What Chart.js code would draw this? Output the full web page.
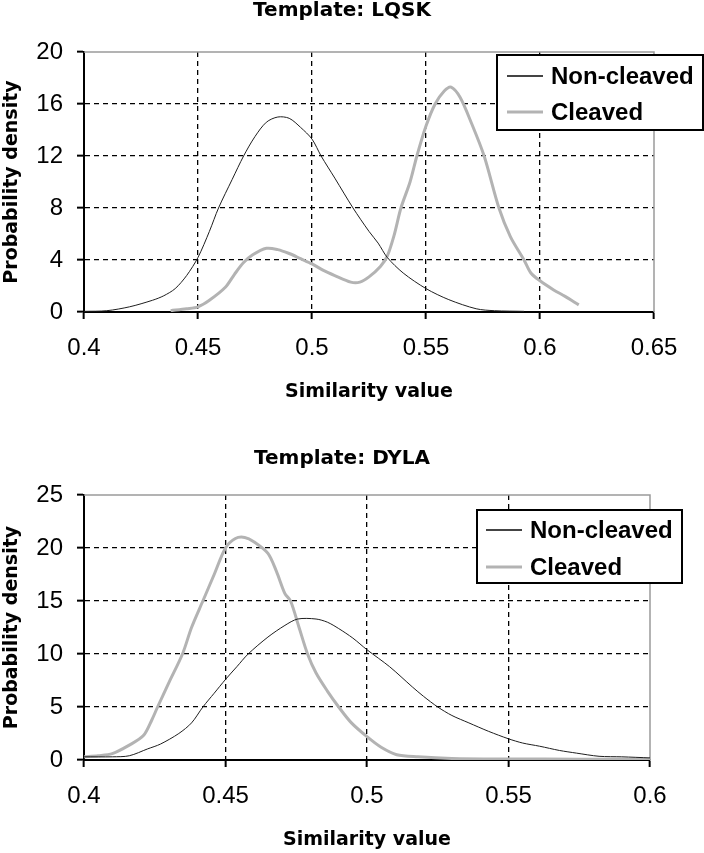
<!DOCTYPE html>
<html>
<head>
<meta charset="utf-8">
<script src="https://cdn.jsdelivr.net/npm/chart.js@4.4.1/dist/chart.umd.min.js"></script>
<style>
  html, body { margin: 0; padding: 0; background: #fff; }
  body { width: 704px; height: 853px; position: relative; overflow: hidden; }
  canvas { position: absolute; left: 0; }
  #lqsk { top: 0; }
  #dyla { top: 420px; }
</style>
</head>
<body>
<canvas id="lqsk" width="704" height="420"></canvas>
<canvas id="dyla" width="704" height="433"></canvas>
<script>
// ---- Template: LQSK ----
const lqskXTicks = [0.4, 0.45, 0.5, 0.55, 0.6, 0.65];
const lqskXLabels = ['0.4', '0.45', '0.5', '0.55', '0.6', '0.65'];
const lqskYTicks = [0, 4, 8, 12, 16, 20];
const lqskYLabels = ['0', '4', '8', '12', '16', '20'];

const lqskNonX = [0.400, 0.410, 0.420, 0.430, 0.435, 0.440, 0.445, 0.450, 0.455, 0.459, 0.465, 0.470, 0.475,
                  0.480, 0.485, 0.490, 0.495, 0.500, 0.504, 0.510, 0.518, 0.525, 0.529, 0.533, 0.540, 0.550,
                  0.560, 0.572, 0.580, 0.593];
const lqskNonY = [0.05, 0.1, 0.4, 0.9, 1.25, 1.8, 2.8, 4.2, 6.2, 8.0, 10.2, 12.0, 13.5,
                  14.6, 15.0, 14.9, 14.2, 13.3, 12.0, 10.3, 8.0, 6.2, 5.3, 4.2, 3.0, 1.8,
                  0.95, 0.25, 0.1, 0.05];

const lqskClvX = [0.438, 0.445, 0.450, 0.455, 0.462, 0.466, 0.470, 0.474, 0.480, 0.485, 0.490, 0.495, 0.500,
                  0.505, 0.510, 0.517, 0.521, 0.525, 0.530, 0.533, 0.536, 0.539, 0.543, 0.546, 0.550, 0.554,
                  0.558, 0.561, 0.565, 0.570, 0.5755, 0.582, 0.587, 0.593, 0.596, 0.600, 0.606, 0.611, 0.617];
const lqskClvY = [0.1, 0.25, 0.4, 0.9, 1.9, 2.9, 3.8, 4.4, 4.9, 4.8, 4.5, 4.1, 3.7,
                  3.2, 2.8, 2.3, 2.3, 2.7, 3.5, 4.3, 5.9, 8.0, 10.0, 12.0, 14.3, 16.0,
                  17.0, 17.3, 16.5, 14.5, 12.0, 8.0, 5.8, 4.0, 3.0, 2.4, 1.7, 1.2, 0.55];

// ---- Template: DYLA ----
const dylaXTicks = [0.4, 0.45, 0.5, 0.55, 0.6];
const dylaXLabels = ['0.4', '0.45', '0.5', '0.55', '0.6'];
const dylaYTicks = [0, 5, 10, 15, 20, 25];
const dylaYLabels = ['0', '5', '10', '15', '20', '25'];

const dylaNonX = [0.400, 0.410, 0.416, 0.4225, 0.427, 0.4335, 0.438, 0.442, 0.446, 0.450, 0.454, 0.458, 0.465,
                  0.471, 0.4755, 0.482, 0.486, 0.490, 0.495, 0.500, 0.508, 0.516, 0.520, 0.525, 0.530, 0.536,
                  0.543, 0.550, 0.555, 0.561, 0.568, 0.574, 0.582, 0.590, 0.600];
const dylaNonY = [0.3, 0.3, 0.4, 1.05, 1.5, 2.5, 3.5, 5.0, 6.3, 7.6, 8.8, 10.0, 11.6,
                  12.7, 13.3, 13.3, 13.0, 12.4, 11.5, 10.4, 8.8, 6.9, 6.0, 5.0, 4.2, 3.5,
                  2.7, 2.0, 1.6, 1.3, 0.9, 0.65, 0.35, 0.3, 0.2];

const dylaClvX = [0.400, 0.405, 0.410, 0.416, 0.421, 0.424, 0.426, 0.430, 0.4348, 0.438, 0.442, 0.446, 0.450,
                  0.4535, 0.4568, 0.460, 0.465, 0.468, 0.471, 0.473, 0.476, 0.479, 0.482, 0.486, 0.490, 0.4945,
                  0.500, 0.505, 0.5105, 0.518, 0.530, 0.550, 0.575, 0.600];
const dylaClvY = [0.3, 0.4, 0.6, 1.4, 2.3, 3.8, 5.0, 7.3, 10.0, 12.5, 15.0, 17.5, 20.0,
                  20.9, 21.0, 20.6, 19.5, 17.8, 15.7, 15.0, 12.5, 10.0, 8.2, 6.5, 5.0, 3.5,
                  2.2, 1.2, 0.5, 0.3, 0.15, 0.1, 0.08, 0.05];

const tickFont = { family: '"Liberation Sans", Arial, sans-serif', size: 24 };
const titleFont = { family: '"DejaVu Sans", sans-serif', size: 19, weight: 'bold' };

// Gray frame on the top and right of the plot area
const plotFrame = {
  id: 'plotFrame',
  beforeDatasetsDraw(chart) {
    const { ctx, chartArea: a } = chart;
    ctx.save();
    ctx.strokeStyle = '#9a9a9a';
    ctx.lineWidth = 1.5;
    ctx.beginPath();
    ctx.moveTo(a.left, a.top);
    ctx.lineTo(a.right, a.top);
    ctx.lineTo(a.right, a.bottom);
    ctx.stroke();
    ctx.restore();
  }
};

// Boxed legend, drawn where the original has it
const boxLegend = {
  id: 'boxLegend',
  afterDraw(chart, args, o) {
    const { ctx } = chart;
    ctx.save();
    ctx.fillStyle = '#fff';
    ctx.fillRect(o.left, o.top, o.right - o.left, o.bottom - o.top);
    ctx.strokeStyle = '#000';
    ctx.lineWidth = 2;
    ctx.strokeRect(o.left, o.top, o.right - o.left, o.bottom - o.top);
    ctx.font = 'bold 24px "Liberation Sans", Arial, sans-serif';
    ctx.textBaseline = 'middle';
    chart.data.datasets.forEach((ds, i) => {
      const y = o.rows[i];
      ctx.strokeStyle = ds.legendColor || ds.borderColor;
      ctx.lineWidth = ds.legendWidth || ds.borderWidth;
      ctx.beginPath();
      ctx.moveTo(o.lineFrom, y);
      ctx.lineTo(o.lineTo, y);
      ctx.stroke();
      ctx.fillStyle = '#000';
      ctx.fillText(ds.label, o.textX, y + 1);
    });
    ctx.restore();
  }
};

function toPoints(xs, ys) {
  return xs.map((x, i) => ({ x: x, y: ys[i] }));
}

function edgeHidden(n) {
  return (c) => (c.index === 0 || c.index === n - 1) ? 'rgba(0,0,0,0)' : '#000';
}

function densityChart(id, cfg) {
  const xN = cfg.xTicks.length, yN = cfg.yTicks.length;
  return new Chart(document.getElementById(id), {
    type: 'line',
    data: {
      datasets: [
        { label: 'Non-cleaved', data: toPoints(cfg.nonX, cfg.nonY), borderColor: '#1e1e1e', borderWidth: 1,
          legendColor: '#444', legendWidth: 2, tension: 0.3, pointRadius: 0 },
        { label: 'Cleaved', data: toPoints(cfg.clvX, cfg.clvY), borderColor: '#b3b3b3', borderWidth: 3,
          tension: 0.3, pointRadius: 0 }
      ]
    },
    options: {
      responsive: false,
      devicePixelRatio: 1,
      animation: false,
      layout: { padding: { left: cfg.padLeft, right: cfg.padRight, top: 0, bottom: 0 } },
      plugins: {
        legend: { display: false },
        tooltip: { enabled: false },
        title: {
          display: true, text: cfg.title, color: '#000',
          font: { family: '"DejaVu Sans", sans-serif', size: 20, weight: 'bold', lineHeight: 1 },
          padding: { top: cfg.titleTop, bottom: cfg.titleBottom }
        },
        boxLegend: cfg.legend
      },
      scales: {
        x: {
          type: 'linear',
          min: cfg.xTicks[0], max: cfg.xTicks[xN - 1],
          afterBuildTicks: (s) => { s.ticks = cfg.xTicks.map(v => ({ value: v })); },
          afterFit: (s) => { s.height = cfg.xAxisHeight; },
          ticks: { callback: (v, i) => cfg.xLabels[i], font: tickFont, color: '#000', padding: 15,
                   maxRotation: 0, autoSkip: false },
          grid: { color: edgeHidden(xN), lineWidth: 1.3, tickColor: '#000', tickWidth: 2, tickLength: 7 },
          border: { color: '#000', width: 2, dash: [5, 4] },
          title: { display: true, text: 'Similarity value', font: titleFont, color: '#000',
                   padding: { top: 0, bottom: cfg.xTitlePad } }
        },
        y: {
          min: cfg.yTicks[0], max: cfg.yTicks[yN - 1],
          afterBuildTicks: (s) => { s.ticks = cfg.yTicks.map(v => ({ value: v })); },
          afterFit: (s) => { s.width = 84 - cfg.padLeft; },
          ticks: { callback: (v, i) => cfg.yLabels[i], font: tickFont, color: '#000', padding: 14 },
          grid: { color: edgeHidden(yN), lineWidth: 1.3, tickColor: '#000', tickWidth: 2, tickLength: 7 },
          border: { color: '#000', width: 2, dash: [5, 4] },
          title: { display: true, text: 'Probability density', font: titleFont, color: '#000',
                   padding: { top: 12 - 11.4 - cfg.padLeft, bottom: 0 } }
        }
      }
    },
    plugins: [plotFrame, boxLegend]
  });
}

densityChart('lqsk', {
  title: 'Template: LQSK',
  xTicks: lqskXTicks, xLabels: lqskXLabels, yTicks: lqskYTicks, yLabels: lqskYLabels,
  nonX: lqskNonX, nonY: lqskNonY, clvX: lqskClvX, clvY: lqskClvY,
  padLeft: 30, padRight: 50, titleTop: 1, titleBottom: 31,
  xAxisHeight: 108, xTitlePad: 16.6,
  legend: { left: 497, top: 55, right: 703, bottom: 130, rows: [76, 112], lineFrom: 507, lineTo: 543, textX: 551 }
});

densityChart('dyla', {
  title: 'Template: DYLA',
  xTicks: dylaXTicks, xLabels: dylaXLabels, yTicks: dylaYTicks, yLabels: dylaYLabels,
  nonX: dylaNonX, nonY: dylaNonY, clvX: dylaClvX, clvY: dylaClvY,
  padLeft: 34, padRight: 54, titleTop: 29, titleBottom: 26,
  xAxisHeight: 93, xTitlePad: 1.6,
  legend: { left: 477, top: 90, right: 682, bottom: 163, rows: [110, 147], lineFrom: 486, lineTo: 522, textX: 530 }
});
</script>
</body>
</html>
